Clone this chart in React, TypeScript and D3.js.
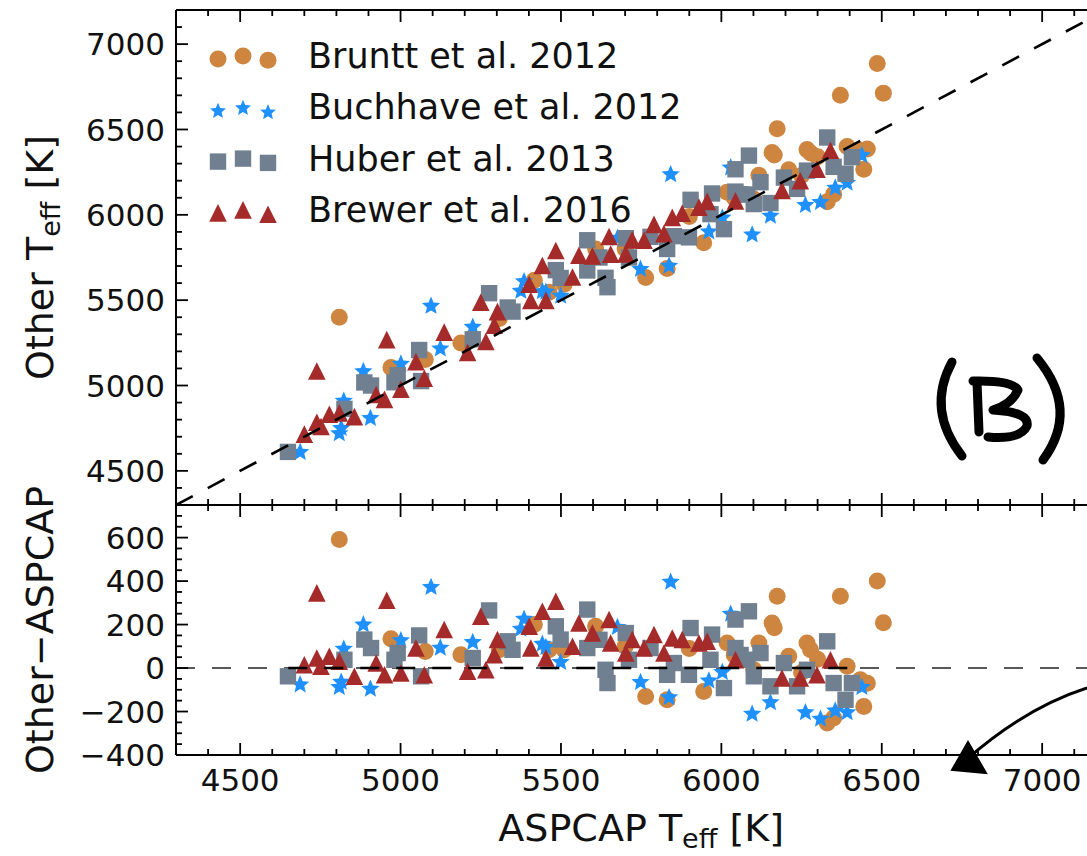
import React from "react";
import * as d3 from "d3";

// ASPCAP Teff and (Other - ASPCAP) offsets
const brunttAspcap = [4809, 4970, 5077, 5188, 5308, 5417, 5463, 5510, 5608, 5700, 5764, 5831, 5900, 5945, 6018, 6040, 6101, 6117, 6158, 6165, 6174, 6210, 6250, 6267, 6278, 6300, 6330, 6350, 6371, 6392, 6433, 6444, 6455, 6486, 6505];
const brunttDiff = [591, 135, 76, 61, 84, 200, 84, 84, 192, 100, -131, -146, 90, -108, 115, 60, -8, 115, 207, 185, 330, 54, -20, 115, 84, 40, -253, -230, 330, 8, -54, -177, -70, 400, 208];

const buchhaveAspcap = [4687, 4809, 4815, 4823, 4884, 4906, 5001, 5095, 5124, 5225, 5375, 5385, 5442, 5453, 5499, 5676, 5748, 5837, 5842, 5961, 6003, 6029, 6096, 6153, 6262, 6309, 6355, 6392, 6438];
const buchhaveDiff = [-72, -84, -60, 92, 204, -92, 131, 376, 97, 123, 184, 230, 115, 100, 31, 192, -61, -131, 400, -54, -15, 253, -207, -154, -200, -230, -192, -200, -84];

const huberAspcap = [4649, 4825, 4887, 4908, 4981, 4991, 5058, 5064, 5225, 5276, 5334, 5349, 5484, 5499, 5582, 5582, 5620, 5639, 5645, 5702, 5712, 5779, 5831, 5852, 5899, 5904, 5966, 5971, 6008, 6044, 6044, 6060, 6081, 6086, 6101, 6122, 6153, 6195, 6236, 6267, 6330, 6350, 6387, 6407];
const huberDiff = [-38, 38, 131, 92, 38, 69, 150, -38, 46, 265, 123, 84, 192, 131, 269, 92, 130, -8, -69, 161, 38, 92, -31, 23, -31, 184, 38, 154, -92, 223, 92, 60, 38, 261, -38, 69, -84, 23, -84, -8, 123, -69, -146, -69];

const brewerAspcap = [4700, 4739, 4739, 4752, 4778, 4809, 4856, 4924, 4950, 4957, 5001, 5048, 5074, 5136, 5209, 5250, 5266, 5292, 5302, 5401, 5406, 5442, 5453, 5484, 5536, 5556, 5598, 5650, 5655, 5702, 5722, 5759, 5790, 5821, 5847, 5878, 5930, 5956, 6044, 6189, 6246, 6298, 6340];
const brewerDiff = [15, 346, 46, 8, 54, 31, -38, 23, -31, 312, -23, 92, -31, 177, -15, 238, -8, 61, 131, 192, 92, 261, 46, 307, 100, 207, 161, 223, 115, 69, 131, 92, 154, 69, 138, 131, 115, 123, 38, -46, -46, -31, 38];

const seriesNames = ["Bruntt et al. 2012", "Buchhave et al. 2012", "Huber et al. 2013", "Brewer et al. 2016"];
const seriesColors = ["#cd853f", "#1e90ff", "#708090", "#a52a2a"];
const seriesShapes = ["circle", "star", "square", "triangle"];
const seriesAspcap = [brunttAspcap, buchhaveAspcap, huberAspcap, brewerAspcap];
const seriesDiff = [brunttDiff, buchhaveDiff, huberDiff, brewerDiff];

const xTickValues = [4500, 5000, 5500, 6000, 6500, 7000];
const topTickValues = [4500, 5000, 5500, 6000, 6500, 7000];
const botTickValues = [-400, -200, 0, 200, 400, 600];

const FONT = "DejaVu Sans, sans-serif";

function markerPath(shape: string, big = true) {
  if (shape === "circle") {
    const r = 8.5;
    return `M${r},0A${r},${r} 0 1,1 ${-r},0A${r},${r} 0 1,1 ${r},0Z`;
  }
  if (shape === "square") {
    const h = 8.2;
    return `M${-h},${-h}H${h}V${h}H${-h}Z`;
  }
  if (shape === "triangle") {
    const h = 8.8;
    return `M0,${-h}L${h},${h}L${-h},${h}Z`;
  }
  const ro = big ? 9.6 : 8.4;
  const ri = ro * 0.45;
  const pts = d3.range(10).map((i) => {
    const a = -Math.PI / 2 + (i * Math.PI) / 5;
    const r = i % 2 ? ri : ro;
    return [r * Math.cos(a), r * Math.sin(a) + ro * 0.1];
  });
  return "M" + pts.map((p) => p.join(",")).join("L") + "Z";
}

export default function App() {
  const width = 1087;
  const height = 856;
  const left = 176;
  const topY0 = 10;
  const midY = 505;
  const botY1 = 755;

  const x = d3.scaleLinear().domain([4300, 7200]).range([left, left + 2900 * 0.3208]);
  const yTop = d3.scaleLinear().domain([4300, 7200]).range([midY, topY0]);
  const yBot = d3.scaleLinear().domain([-400, 750]).range([botY1, midY]);

  const xMinor = d3.range(4300, 7201, 100);
  const topMinor = d3.range(4300, 7201, 100);
  const botMinor = d3.range(-400, 751, 50);
  const right = width + 30;

  const tickStroke = { stroke: "#000", strokeWidth: 1.8 };

  return (
    <svg width={width} height={height} style={{ position: "absolute", left: 0, top: 0, background: "#fff" }} fontFamily={FONT}>
      <defs>
        <clipPath id="topClip">
          <rect x={left} y={topY0} width={right - left} height={midY - topY0} />
        </clipPath>
      </defs>

      {/* top panel markers */}
      <g>
        {seriesAspcap.map((xs, s) => (
          <g key={s} fill={seriesColors[s]}>
            {xs.map((t, i) => (
              <path key={i} d={markerPath(seriesShapes[s])} transform={`translate(${x(t)},${yTop(t + seriesDiff[s][i])})`} />
            ))}
          </g>
        ))}
      </g>
      <line clipPath="url(#topClip)" x1={x(4300)} y1={yTop(4300)} x2={x(7200)} y2={yTop(7200)} stroke="#000" strokeWidth={2.6} strokeDasharray="19 17" />

      {/* bottom panel markers */}
      <line x1={left} x2={right} y1={yBot(0)} y2={yBot(0)} stroke="#222" strokeWidth={1.6} strokeDasharray="19 17" />
      <g>
        {seriesAspcap.map((xs, s) => (
          <g key={s} fill={seriesColors[s]}>
            {xs.map((t, i) => (
              <path key={i} d={markerPath(seriesShapes[s])} transform={`translate(${x(t)},${yBot(seriesDiff[s][i])})`} />
            ))}
          </g>
        ))}
      </g>
      <line x1={x(4650)} x2={x(6420)} y1={yBot(0)} y2={yBot(0)} stroke="#000" strokeWidth={2.4} strokeDasharray="19 17" />

      {/* spines */}
      <g fill="none" stroke="#000" strokeWidth={2}>
        <line x1={left} x2={right} y1={topY0} y2={topY0} />
        <line x1={left} x2={right} y1={midY} y2={midY} />
        <line x1={left} x2={right} y1={botY1} y2={botY1} />
        <line x1={left} x2={left} y1={topY0} y2={botY1} />
      </g>

      {/* ticks */}
      <g {...tickStroke}>
        {xMinor.map((v) => {
          const len = v % 500 === 0 ? 12 : 6;
          const px = x(v);
          return (
            <g key={v}>
              <line x1={px} x2={px} y1={topY0} y2={topY0 + len} />
              <line x1={px} x2={px} y1={midY - len} y2={midY + len} />
              <line x1={px} x2={px} y1={botY1} y2={botY1 - len} />
            </g>
          );
        })}
        {topMinor.map((v) => {
          const len = v % 500 === 0 ? 12 : 6;
          return <line key={v} x1={left} x2={left + len} y1={yTop(v)} y2={yTop(v)} />;
        })}
        {botMinor.map((v) => {
          const len = v % 200 === 0 ? 12 : 6;
          return <line key={v} x1={left} x2={left + len} y1={yBot(v)} y2={yBot(v)} />;
        })}
      </g>

      {/* tick labels */}
      <g fontSize={31} fill="#111">
        {xTickValues.map((v) => (
          <text key={v} x={x(v)} y={791} textAnchor="middle">{v}</text>
        ))}
        {topTickValues.map((v) => (
          <text key={v} x={left - 11} y={yTop(v)} dy="0.36em" textAnchor="end">{v}</text>
        ))}
        {botTickValues.map((v) => (
          <text key={v} x={left - 11} y={yBot(v)} dy="0.36em" textAnchor="end">{v < 0 ? "\u2212" + Math.abs(v) : v}</text>
        ))}
      </g>

      {/* axis labels */}
      <g fontSize={38} fill="#111">
        <text x={(x(4300) + x(7200)) / 2} y={841} textAnchor="middle">
          ASPCAP T<tspan fontSize={27} dy={7}>eff</tspan><tspan dy={-7}> [K]</tspan>
        </text>
        <text transform={`translate(53,${(topY0 + midY) / 2}) rotate(-90)`} textAnchor="middle">
          Other T<tspan fontSize={27} dy={7}>eff</tspan><tspan dy={-7}> [K]</tspan>
        </text>
        <text transform={`translate(53,${(midY + botY1) / 2}) rotate(-90)`} textAnchor="middle">
          Other{"\u2212"}ASPCAP
        </text>
      </g>

      {/* legend */}
      <g>
        {seriesNames.map((name, s) => {
          const cy = 56 + s * 51.3;
          const offs = [3, 0, 4.3];
          return (
            <g key={name}>
              {[218, 243, 268].map((mx, k) => (
                <path key={k} d={markerPath(seriesShapes[s], false)} fill={seriesColors[s]} transform={`translate(${mx},${cy + offs[k]})`} />
              ))}
              <text x={308} y={cy + 12} fontSize={35} fill="#111">{name}</text>
            </g>
          );
        })}
      </g>

      {/* hand-drawn annotation */}
      <g fill="none" stroke="#000" strokeWidth={9} strokeLinecap="round" strokeLinejoin="round">
        <path d="M952,362 Q926,410 962,456" />
        <path d="M977,382 L979,432" />
        <path d="M973,381 Q1012,380 1018,390 Q1012,404 993,410 Q1030,412 1027,426 Q1020,440 988,437" />
        <path d="M1037,358 Q1080,410 1043,460" />
      </g>
      <path d="M1087,688 Q1025,708 966,760" fill="none" stroke="#000" strokeWidth={3} />
      <path d="M968,742 L952,770 L986,773 Z" fill="#000" stroke="#000" strokeWidth={2} />
    </svg>
  );
}
